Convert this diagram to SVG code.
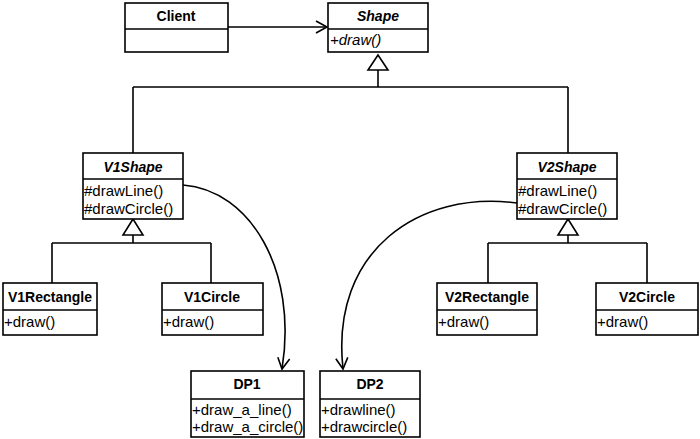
<svg xmlns="http://www.w3.org/2000/svg" width="700" height="439" viewBox="0 0 700 439">
<style>
.box{fill:#fff;stroke:#000;stroke-width:1.6}
.ln{fill:none;stroke:#000;stroke-width:1.6}
.t{font-family:"Liberation Sans",Arial,sans-serif;font-size:14px;font-weight:bold;text-anchor:middle}
.ti{font-style:italic}
.m{font-family:"Liberation Sans",Arial,sans-serif;font-size:15px}
</style>
<defs>
<marker id="open" markerWidth="14" markerHeight="14" refX="12" refY="7" orient="auto" markerUnits="userSpaceOnUse">
<path d="M1,1 L12,7 L1,13" fill="none" stroke="#000" stroke-width="1.6"/>
</marker>
</defs>
<g id="connectors">
<line class="ln" x1="228" y1="27" x2="327" y2="27" marker-end="url(#open)"/>
<path class="ln" d="M378,55 L368,70 L388,70 Z"/>
<path class="ln" d="M378,70 V87 M133,87 H568 M133,87 V153 M568,87 V153"/>
<path class="ln" d="M133,219 L123,235 L143,235 Z"/>
<path class="ln" d="M133,235 V243 M52,243 H211 M52,243 V283 M211,243 V283"/>
<path class="ln" d="M568,219 L558,235 L578,235 Z"/>
<path class="ln" d="M568,235 V243 M488,243 H647 M488,243 V283 M647,243 V283"/>
<path class="ln" d="M183,185 C250,190 298,270 282,369" marker-end="url(#open)"/>
<path class="ln" d="M517,203 C420,190 330,250 343,369" marker-end="url(#open)"/>
</g>
<g id="Client">
<rect class="box" x="125" y="3" width="103" height="49"/>
<line class="ln" x1="125" y1="29" x2="228" y2="29"/>
<text class="t" x="176" y="21">Client</text>
</g>
<g id="Shape">
<rect class="box" x="328" y="3" width="100" height="49"/>
<line class="ln" x1="328" y1="29" x2="428" y2="29"/>
<text class="t ti" x="378" y="21">Shape</text>
<text class="m ti" x="330" y="45">+draw()</text>
</g>
<g id="V1Shape">
<rect class="box" x="83" y="153" width="100" height="66"/>
<line class="ln" x1="83" y1="179" x2="183" y2="179"/>
<text class="t ti" x="133" y="172">V1Shape</text>
<text class="m" x="84" y="196">#drawLine()</text>
<text class="m" x="84" y="214">#drawCircle()</text>
</g>
<g id="V2Shape">
<rect class="box" x="517" y="153" width="100" height="66"/>
<line class="ln" x1="517" y1="179" x2="617" y2="179"/>
<text class="t ti" x="567" y="172">V2Shape</text>
<text class="m" x="518" y="196">#drawLine()</text>
<text class="m" x="518" y="214">#drawCircle()</text>
</g>
<g id="V1Rectangle">
<rect class="box" x="3" y="283" width="94" height="52"/>
<line class="ln" x1="3" y1="310" x2="97" y2="310"/>
<text class="t" x="50" y="302">V1Rectangle</text>
<text class="m" x="4" y="327">+draw()</text>
</g>
<g id="V1Circle">
<rect class="box" x="162" y="283" width="101" height="52"/>
<line class="ln" x1="162" y1="310" x2="263" y2="310"/>
<text class="t" x="212" y="302">V1Circle</text>
<text class="m" x="163" y="327">+draw()</text>
</g>
<g id="V2Rectangle">
<rect class="box" x="437" y="283" width="100" height="52"/>
<line class="ln" x1="437" y1="310" x2="537" y2="310"/>
<text class="t" x="487" y="302">V2Rectangle</text>
<text class="m" x="438" y="327">+draw()</text>
</g>
<g id="V2Circle">
<rect class="box" x="596" y="283" width="102" height="52"/>
<line class="ln" x1="596" y1="310" x2="698" y2="310"/>
<text class="t" x="647" y="302">V2Circle</text>
<text class="m" x="597" y="327">+draw()</text>
</g>
<g id="DP1">
<rect class="box" x="191" y="371" width="113" height="66"/>
<line class="ln" x1="191" y1="399" x2="304" y2="399"/>
<text class="t" x="247" y="389">DP1</text>
<text class="m" x="192" y="415">+draw_a_line()</text>
<text class="m" x="192" y="432">+draw_a_circle()</text>
</g>
<g id="DP2">
<rect class="box" x="320" y="371" width="100" height="66"/>
<line class="ln" x1="320" y1="399" x2="420" y2="399"/>
<text class="t" x="370" y="389">DP2</text>
<text class="m" x="321" y="415">+drawline()</text>
<text class="m" x="321" y="432">+drawcircle()</text>
</g>
</svg>
